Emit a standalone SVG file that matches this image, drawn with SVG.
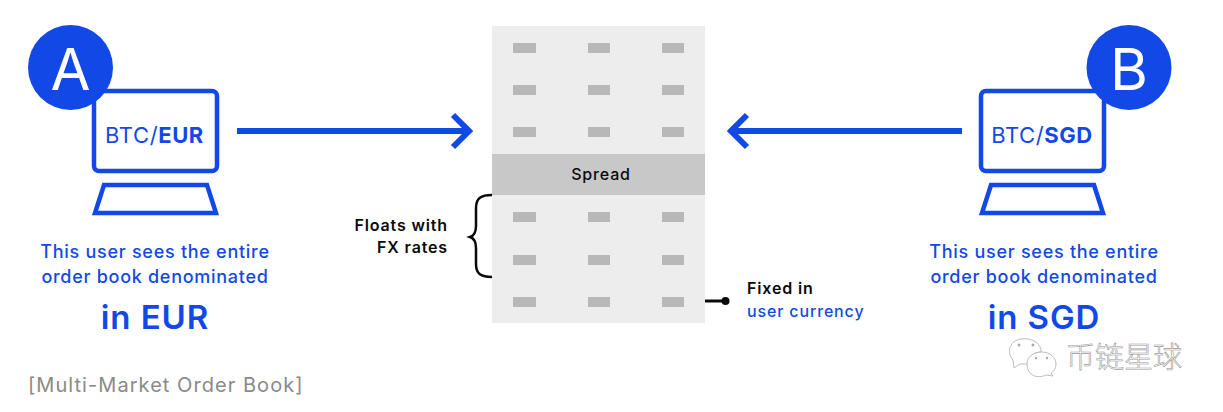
<svg xmlns="http://www.w3.org/2000/svg" width="1223" height="412" viewBox="0 0 1223 412">
<defs><style>
text{font-family:"Inter","Noto Sans","Liberation Sans",sans-serif}
.b{fill:#1249e6}.k{fill:#0a0a0a}
.s{fill:none;stroke:#1249e6;stroke-width:4.5}
.a{fill:none;stroke:#1249e6;stroke-width:6}
.cap{font-size:18px;font-weight:500;text-anchor:middle;fill:#1249e6;letter-spacing:.72px}
.big{font-size:33px;font-weight:600;text-anchor:middle;fill:#1249e6;letter-spacing:.9px}
.lab{font-size:16px;font-weight:600;fill:#0a0a0a;letter-spacing:.85px}
.scr{font-size:22px;fill:#1249e6;text-anchor:middle;letter-spacing:.6px}
.c{fill:#b8b8b8}
</style></defs>
<rect width="1223" height="412" fill="#fff"/>
<g id="order-book">
<rect x="492" y="26" width="213" height="297" fill="#ededed"/>
<rect x="492" y="154" width="213" height="41" fill="#c8c8c8"/>
<text x="601" y="180" text-anchor="middle" class="lab" style="font-weight:500">Spread</text>
<g class="c">
<rect x="513" y="43" width="23" height="10"/><rect x="588" y="43" width="22" height="10"/><rect x="662" y="43" width="22" height="10"/>
<rect x="513" y="85" width="23" height="10"/><rect x="588" y="85" width="22" height="10"/><rect x="662" y="85" width="22" height="10"/>
<rect x="513" y="127" width="23" height="10"/><rect x="588" y="127" width="22" height="10"/><rect x="662" y="127" width="22" height="10"/>
<rect x="513" y="212" width="23" height="10"/><rect x="588" y="212" width="22" height="10"/><rect x="662" y="212" width="22" height="10"/>
<rect x="513" y="255" width="23" height="10"/><rect x="588" y="255" width="22" height="10"/><rect x="662" y="255" width="22" height="10"/>
<rect x="513" y="297" width="23" height="10"/><rect x="588" y="297" width="22" height="10"/><rect x="662" y="297" width="22" height="10"/>
</g>
</g>
<g id="user-a">
<rect x="94" y="91" width="123" height="80" rx="5" class="s"/>
<path d="M104 185H207L216 213H95Z" class="s"/>
<circle cx="70.500" cy="67.500" r="42.500" class="b"/>
<text x="70.500" y="90" text-anchor="middle" style="font-size:58px;font-weight:400" fill="#fff">A</text>
<text x="154.500" y="143" class="scr">BTC/<tspan font-weight="700">EUR</tspan></text>
<text x="155" y="258" class="cap">This user sees the entire</text>
<text x="155" y="283" class="cap">order book denominated</text>
<text x="155" y="329" class="big">in EUR</text>
</g>
<g id="user-b">
<rect x="981" y="91" width="123" height="80" rx="5" class="s"/>
<path d="M991 185H1094L1103 213H982Z" class="s"/>
<circle cx="1129" cy="67.500" r="42.500" class="b"/>
<text x="1129" y="90" text-anchor="middle" style="font-size:58px;font-weight:400" fill="#fff">B</text>
<text x="1042" y="143" class="scr">BTC/<tspan font-weight="700">SGD</tspan></text>
<text x="1044" y="258" class="cap">This user sees the entire</text>
<text x="1044" y="283" class="cap">order book denominated</text>
<text x="1044" y="329" class="big">in SGD</text>
</g>
<g id="connectors">
<path d="M237 131H468M453 115L469 131L453 147" class="a"/>
<path d="M962 131H731M747 115L731 131L747 147" class="a"/>
<path d="M492 195C481 195 476 198 476 208V226Q476 235 470 237Q476 239 476 248V264C476 274 481 277 492 277" fill="none" stroke="#0a0a0a" stroke-width="2.500"/>
<path d="M705 301H725" stroke="#0a0a0a" stroke-width="3"/>
<circle cx="725.500" cy="301" r="4" class="k"/>
</g>
<g id="labels">
<text x="448" y="231" text-anchor="end" class="lab">Floats with</text>
<text x="448" y="253" text-anchor="end" class="lab">FX rates</text>
<text x="747" y="294" class="lab">Fixed in</text>
<text x="747" y="317" class="lab" style="fill:#1249e6;font-weight:500">user currency</text>
<text x="28" y="392" style="font-size:20px;letter-spacing:1.05px" fill="#8a8a8a">[Multi-Market Order Book]</text>
</g>
<g id="watermark">
<g fill="#fff" stroke="#bdbdbd" stroke-width="1">
<path d="M1013 360C1007 354 1008 341 1021 339C1033 337 1042 345 1041 352C1033 352 1027 358 1028 364L1020 364L1014 368Z"/>
<path d="M1046 375C1038 379 1027 376 1027 364C1027 356 1034 352 1042 352C1050 352 1056 358 1056 364C1056 369 1053 372 1051 373L1053 376Z"/>
</g>
<g fill="#aaa"><circle cx="1019" cy="345" r="1.500"/><circle cx="1033" cy="345" r="1.500"/><circle cx="1036" cy="358" r="1.200"/><circle cx="1047" cy="358" r="1.200"/></g>
<text x="1066" y="368" style="font-family:'Noto Sans CJK SC',sans-serif;font-size:29px;font-weight:300" fill="#fff" stroke="#9a9a9a" stroke-width=".6">币链星球</text>
</g>
</svg>
